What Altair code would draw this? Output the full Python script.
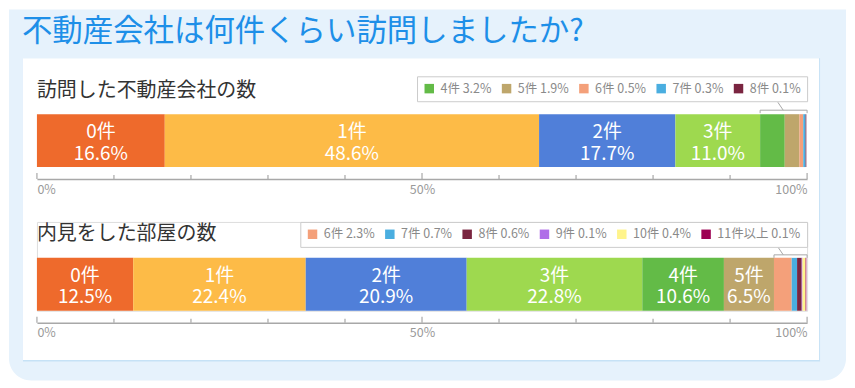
import altair as alt
import pandas as pd

FONT = "Noto Sans CJK JP"

main_title = "不動産会社は何件くらい訪問しましたか?"

# chart 1
title1 = "訪問した不動産会社の数"
cats1 = ["0件", "1件", "2件", "3件", "4件", "5件", "6件", "7件", "8件"]
vals1 = [16.6, 48.6, 17.7, 11.0, 3.2, 1.9, 0.5, 0.3, 0.1]
inbar1 = 4  # first 4 categories labelled inside the bar

# chart 2
title2 = "内見をした部屋の数"
cats2 = ["0件", "1件", "2件", "3件", "4件", "5件", "6件", "7件", "8件", "9件", "10件", "11件以上"]
vals2 = [12.5, 22.4, 20.9, 22.8, 10.6, 6.5, 2.3, 0.7, 0.6, 0.1, 0.4, 0.1]
inbar2 = 6

palette = {
    "0件": "#ee6a2c", "1件": "#fdbb47", "2件": "#507fd9", "3件": "#9ed94f",
    "4件": "#63bb47", "5件": "#bea66b", "6件": "#f4a07a", "7件": "#4aaee0",
    "8件": "#7a2540", "9件": "#b06ee8", "10件": "#fff48c", "11件以上": "#9c0052",
}

ticks_major = [0, 50, 100]
ticks_minor = [10, 20, 30, 40, 60, 70, 80, 90]

W = 772
BLUE_BG = "#e6f2fc"
GRAY = "#9a9a9a"


def make_table(name, cats, vals, n_in):
    rows = []
    s = 0.0
    for i, (c, v) in enumerate(zip(cats, vals)):
        rows.append({
            "row": name, "cat": c, "val": v, "start": s, "end": s + v,
            "mid": s + v / 2, "leg": f"{c} {v:.1f}%", "l1": c, "l2": f"{v:.1f}%",
            "lab": i < n_in,
        })
        s += v
    return pd.DataFrame(rows)


xscale = alt.Scale(domain=[0, 100], nice=False, zero=False)
xaxis = alt.Axis(title=None, values=ticks_major, ticks=False, tickSize=0, offset=12,
                 domainColor="#a8a8a8", domainWidth=1.5, labelFlush=True,
                 labelExpr="datum.value + '%'", labelFontSize=12.5, labelColor=GRAY,
                 labelPadding=4, grid=False, labelFont=FONT, zindex=2)


def panel(name, title, cats, vals, n_in, height, bracket_y, legend_bottom, title_y, first):
    df = make_table(name, cats, vals, n_in)
    bw = 53
    po = (height / bw - 1) / 2
    yscale = alt.Scale(domain=[name], paddingInner=0, paddingOuter=po, align=1)
    small = df[~df["lab"]]
    color = alt.Color(
        "leg:N",
        scale=alt.Scale(domain=list(df["leg"]), range=[palette[c] for c in df["cat"]]),
        legend=alt.Legend(
            title=None, orient="top-right", offset=0, direction="horizontal",
            columns=len(small), values=list(small["leg"]), symbolType="square",
            symbolSize=90, symbolStrokeWidth=0, labelFontSize=12.5, labelColor="#8a8a8a",
            labelFont=FONT, columnPadding=8.5, labelOffset=5, padding=6,
            strokeColor="#cccccc", fillColor="white", labelLimit=200,
        ),
    )
    base = alt.Chart(df)
    bars = base.mark_bar().encode(
        x=alt.X("start:Q", scale=xscale, axis=xaxis),
        x2="end:Q",
        y=alt.Y("row:N", scale=yscale, axis=None),
        color=color,
    )
    lab = base.transform_filter("datum.lab")
    txt_kw = dict(fontSize=19, font=FONT, baseline="middle", align="center", color="white")
    t1 = lab.mark_text(dy=-8.5, **txt_kw).encode(
        x=alt.X("mid:Q", scale=xscale, axis=xaxis), y=alt.Y("row:N", scale=yscale, axis=None), text="l1:N")
    t2 = lab.mark_text(dy=13, **txt_kw).encode(
        x=alt.X("mid:Q", scale=xscale, axis=xaxis), y=alt.Y("row:N", scale=yscale, axis=None), text="l2:N")

    axy = height + 12
    tmaj = alt.Chart(pd.DataFrame({"t": ticks_major})).mark_rule(color="#a8a8a8", strokeWidth=1.2).encode(
        x=alt.X("t:Q", scale=xscale, axis=xaxis), y=alt.value(axy - 6), y2=alt.value(axy))
    tmin = alt.Chart(pd.DataFrame({"t": ticks_minor})).mark_rule(color="#a8a8a8", strokeWidth=1.2).encode(
        x=alt.X("t:Q", scale=xscale, axis=xaxis), y=alt.value(axy - 4), y2=alt.value(axy))

    bs = float(small["start"].iloc[0])
    br = pd.DataFrame({"s": [bs], "e": [100.0], "d1": [96.9], "d2": [96.2]})
    brc = "#a8a8a8"
    bh = alt.Chart(br).mark_rule(color=brc, strokeWidth=1).encode(
        x=alt.X("s:Q", scale=xscale, axis=xaxis), x2="e:Q", y=alt.value(bracket_y))
    bends = alt.Chart(pd.DataFrame({"p": [bs, 100.0]})).mark_rule(color=brc, strokeWidth=1).encode(
        x=alt.X("p:Q", scale=xscale, axis=xaxis), y=alt.value(bracket_y), y2=alt.value(bracket_y + 3))
    bd = alt.Chart(br).mark_rule(color=brc, strokeWidth=1).encode(
        x=alt.X("d1:Q", scale=xscale, axis=xaxis), x2="d2:Q", y=alt.value(bracket_y), y2=alt.value(legend_bottom))

    sec = alt.Chart(pd.DataFrame({"t": [title]})).mark_text(
        font=FONT, fontSize=20, color="#333333", align="left", baseline="middle").encode(
        x=alt.value(0), y=alt.value(title_y), text="t:N")

    layers = []
    if first:
        outer = alt.Chart(pd.DataFrame({"k": [0]})).mark_rect(
            color=BLUE_BG, cornerRadiusBottomLeft=22, cornerRadiusBottomRight=22).encode(
            x=alt.value(-28), x2=alt.value(811), y=alt.value(-67), y2=alt.value(305))
        shadow = alt.Chart(pd.DataFrame({"k": [0]})).mark_rect(color="#c6e2f6").encode(
            x=alt.value(-14), x2=alt.value(785), y=alt.value(-18), y2=alt.value(286))
        white = alt.Chart(pd.DataFrame({"k": [0]})).mark_rect(color="white").encode(
            x=alt.value(-14), x2=alt.value(784), y=alt.value(-18), y2=alt.value(284.5))
        mt = alt.Chart(pd.DataFrame({"t": [main_title]})).mark_text(
            font=FONT, fontSize=30.5, color="#1d8fe8", align="left", baseline="middle").encode(
            x=alt.value(-15), y=alt.value(-44), text="t:N")
        layers += [outer, shadow, white, mt]
    layers += [sec, bars, t1, t2, tmaj, tmin, bh, bends, bd]
    return alt.layer(*layers).properties(width=W, height=height)


c1 = panel("a", title1, cats1, vals1, inbar1, 91, 34, 26, 15, True)
c2 = panel("b", title2, cats2, vals2, inbar2, 89, 33, 25, 12, False)

chart = alt.vconcat(c1, c2, spacing=55, bounds="flush").resolve_scale(
    color="independent", y="independent", x="independent"
).properties(padding=0).configure_view(strokeWidth=0).configure(font=FONT)

chart.save("out.html", embed_options={"renderer": "svg", "actions": False})
